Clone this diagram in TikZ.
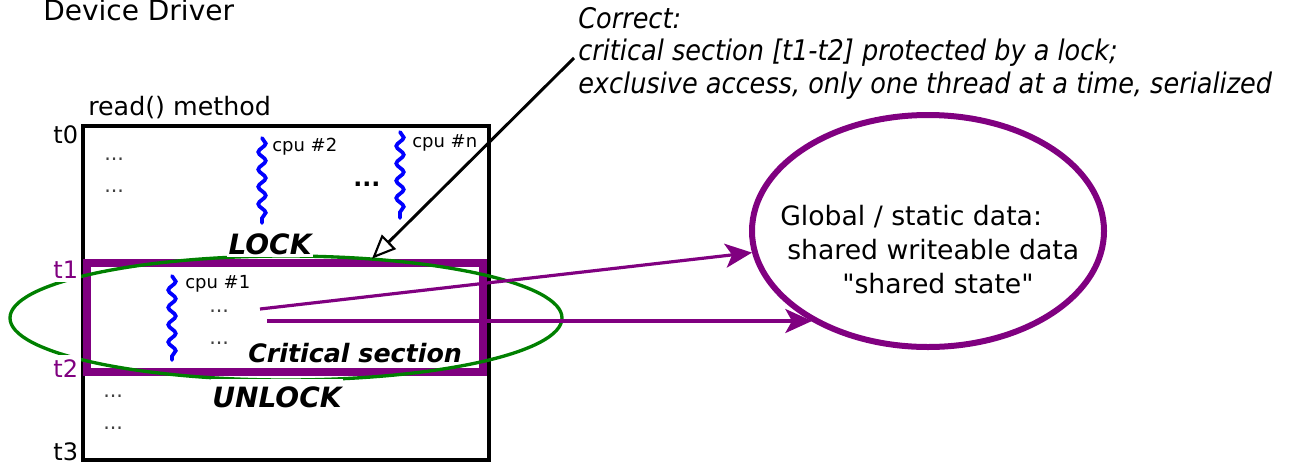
\documentclass[tikz,border=0pt]{standalone}
\usepackage{fontspec}
\setmainfont{DejaVu Sans}
\newfontfamily\notefont[FakeStretch=0.9]{DejaVu Sans}
\newfontfamily\rawfont[Ligatures=TeXOff]{DejaVu Sans}
\usetikzlibrary{arrows.meta,decorations.pathmorphing,shapes.geometric}

\definecolor{lockpurple}{RGB}{128,0,128}
\definecolor{scopegreen}{RGB}{0,128,0}
\definecolor{threadblue}{RGB}{0,0,255}

\newcommand{\fsz}[1]{\fontsize{#1}{1.2\dimexpr#1\relax}\selectfont}

\begin{document}
\begin{tikzpicture}[x=0.75pt,y=-0.75pt,
  plain/.style={inner sep=0pt, anchor=base west},
  tlabel/.style={anchor=base east, inner xsep=2pt, inner ysep=3pt, fill=white, font=\fsz{18pt}},
  cpulabel/.style={plain, font=\fsz{13.5pt}},
  dots/.style={plain, text=black!75, font=\fsz{15.5pt}},
  keyword/.style={anchor=base, inner xsep=1pt, fill=white, font=\fsz{21pt}\bfseries\itshape},
  thread/.style={threadblue, line width=2.8pt, line cap=round,
    decorate, decoration={snake, amplitude=2.8pt, segment length=13pt}},
  flow/.style={lockpurple, line width=2.4pt,
    -{Stealth[length=20pt, width=18pt, inset=5pt]}},
  note/.style={plain, font=\notefont\itshape\fsz{21.3pt}}
]
\useasboundingbox (0,0) rectangle (1296,465);

% titles
\node[plain, font=\fsz{21pt}] (title) at (43,20) {Device Driver};
\node[plain, font=\fsz{19pt}] (method) at (88,115) {read() method};

% the read() method body, t0 .. t3
\node[draw, line width=2.6pt, inner sep=0pt,
      minimum width=304.5pt, minimum height=250.5pt] (body) at (286,293) {};

% the critical section and its scope
\node[draw=lockpurple, line width=6.5pt, inner sep=0pt,
      minimum width=297pt, minimum height=81.75pt] (crit) at (285,317.5) {};
\node[ellipse, draw=scopegreen, line width=2.5pt, inner sep=0pt,
      minimum width=414pt, minimum height=93pt] (scope) at (286,318) {};

% time marks
\node[tlabel] (t0) at (81,143) {t0};
\node[tlabel, text=lockpurple] (t1) at (81,278) {t1};
\node[tlabel, text=lockpurple] (t2) at (81,377) {t2};
\node[tlabel] (t3) at (81,460) {t3};

% threads running on the cpus
\coordinate (c2a) at (262,138); \coordinate (c2b) at (262,223);
\coordinate (cna) at (400,132); \coordinate (cnb) at (400,218);
\coordinate (c1a) at (172,276); \coordinate (c1b) at (172,360);
\draw[thread] (c2a) -- (c2b);
\draw[thread] (cna) -- (cnb);
\draw[thread] (c1a) -- (c1b);
\node[cpulabel] (cpu2) at (272,151) {cpu \#2};
\node[cpulabel] (cpun) at (412,147) {cpu \#n};
\node[cpulabel] (cpu1) at (185,288) {cpu \#1};

% code lines
\node[dots] (d1) at (104,160) {...};
\node[dots] (d2) at (104,192) {...};
\node[plain, font=\fsz{17.8pt}\bfseries] (dmore) at (353,186) {...};
\node[dots] (d3) at (209,312) {...};
\node[dots] (d4) at (209,344) {...};
\node[dots] (d5) at (103,397) {...};
\node[dots] (d6) at (103,429) {...};

% lock / unlock
\node[keyword, inner ysep=2pt] (lock) at (270,254) {LOCK};
\node[keyword, inner ysep=5.5pt] (unlock) at (277,407) {UNLOCK};
\node[plain, font=\fsz{19pt}\bfseries\itshape] (cs) at (248,362) {Critical section};

% remark on the locking
\node[note] (n1) at (578,28) {Correct:};
\node[note] (n2) at (578,60) {critical section [t1-t2] protected by a lock;};
\node[note] (n3) at (578,93) {exclusive access, only one thread at a time, serialized};
\coordinate (from) at (574,58);
\draw[line width=2.2pt, -{Triangle[fill=white, length=18pt, width=15pt, line width=1.6pt]}]
  (from) -- (crit.north -| 372,0);

% the shared data
\node[ellipse, draw=lockpurple, line width=4.5pt, inner sep=0pt,
      minimum width=264pt, minimum height=174pt] (store) at (928,231) {};
\node[plain, font=\fsz{20pt}] (g1) at (780,225) {Global / static data:};
\node[plain, font=\fsz{20pt}] (g2) at (787,259) {shared writeable data};
\node[plain, font=\rawfont\fsz{20pt}] (g3) at (842,293) {"shared state"};

\coordinate (w1) at (260,309);
\coordinate (w2) at (267,321);
\draw[flow] (w1) -- (store.187);
\draw[flow] (w2) -- (w2 -| store.218);
\end{tikzpicture}
\end{document}
